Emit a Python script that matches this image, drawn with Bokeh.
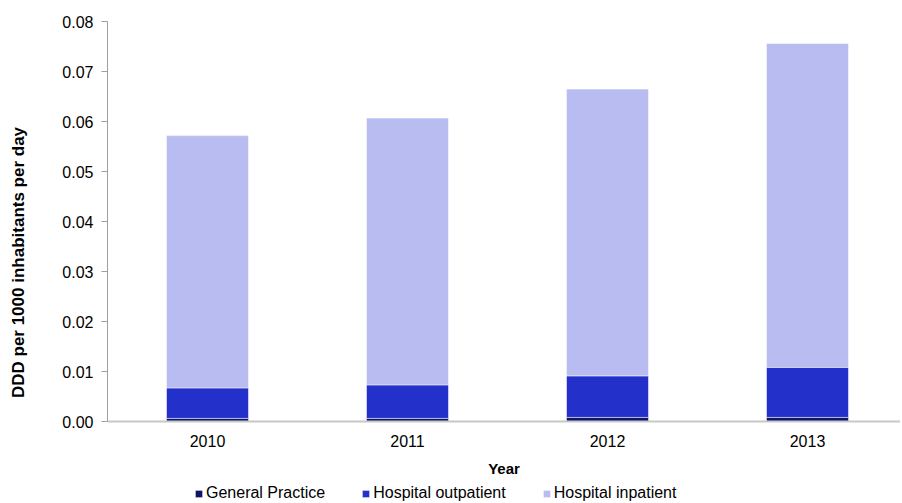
from bokeh.plotting import figure
from bokeh.models import (ColumnDataSource, Range1d, FixedTicker, Legend, LegendItem,
                          CustomJSTickFormatter, LinearAxis)
from bokeh.embed import file_html
from bokeh.resources import INLINE

years = ["2010", "2011", "2012", "2013"]
general_practice = [0.0007, 0.0007, 0.0009, 0.0009]
hospital_outpatient = [0.0061, 0.0067, 0.0083, 0.0100]
hospital_inpatient = [0.0504, 0.0533, 0.0573, 0.0647]
y_ticks = [0.0, 0.01, 0.02, 0.03, 0.04, 0.05, 0.06, 0.07, 0.08]

series = ["General Practice", "Hospital outpatient", "Hospital inpatient"]
colors = ["#0f1566", "#2330c9", "#b8bcf1"]

source = ColumnDataSource(dict(
    x=list(range(len(years))),
    gp=general_practice,
    op=hospital_outpatient,
    ip=hospital_inpatient,
))

FONT = "Liberation Sans"

p = figure(width=900, height=503, output_backend="svg", toolbar_location=None,
           x_range=Range1d(-0.5, 3.465), y_range=Range1d(-0.0163, 0.08),
           x_axis_location=None,
           min_border_left=107, min_border_top=21, min_border_right=0,
           min_border_bottom=0)

renderers = p.vbar_stack(["gp", "op", "ip"], x="x", width=0.41, source=source,
                         color=colors, line_color="#ffffff", line_alpha=0.5, line_width=1)

p.xgrid.visible = False
p.ygrid.visible = False
p.outline_line_color = None

xaxis = LinearAxis(fixed_location=0)
xaxis.ticker = FixedTicker(ticks=list(range(len(years))))
xaxis.major_label_overrides = {i: y for i, y in enumerate(years)}
xaxis.major_tick_line_color = None
xaxis.minor_tick_line_color = None
xaxis.axis_line_color = "#c8c8c8"
xaxis.axis_line_width = 2
xaxis.major_label_text_font = FONT
xaxis.major_label_text_font_size = "16px"
xaxis.major_label_text_color = "#000000"
xaxis.major_label_standoff = 7
xaxis.axis_label = "Year"
xaxis.axis_label_text_font = FONT
xaxis.axis_label_text_font_size = "15px"
xaxis.axis_label_text_font_style = "bold"
xaxis.axis_label_text_color = "#000000"
xaxis.axis_label_standoff = 10
p.add_layout(xaxis, "below")

p.yaxis.ticker = FixedTicker(ticks=y_ticks)
p.yaxis.bounds = (0, 0.08)
p.yaxis.formatter = CustomJSTickFormatter(code="return tick.toFixed(2);")
p.yaxis.minor_tick_line_color = None
p.yaxis.major_tick_out = 6
p.yaxis.major_tick_in = 0
p.yaxis.axis_line_color = "#a0a0a0"
p.yaxis.major_tick_line_color = "#a0a0a0"
p.yaxis.major_label_text_font = FONT
p.yaxis.major_label_text_font_size = "16px"
p.yaxis.major_label_text_color = "#000000"
p.yaxis.major_label_standoff = 8
p.yaxis.axis_label = "DDD per 1000 inhabitants per day"
p.yaxis.axis_label_text_font = FONT
p.yaxis.axis_label_text_font_size = "17px"
p.yaxis.axis_label_text_font_style = "bold"
p.yaxis.axis_label_text_color = "#000000"
p.yaxis.axis_label_standoff = 31

legend = Legend(items=[LegendItem(label=s, renderers=[r]) for s, r in zip(series, renderers)],
                orientation="horizontal", location=(87, 1),
                label_text_font=FONT, label_text_font_size="16px",
                label_text_color="#000000",
                glyph_width=9, glyph_height=9, label_standoff=3, spacing=36,
                padding=0, margin=0, border_line_color=None, background_fill_alpha=0,
                label_height=14)
p.add_layout(legend, "center")

open("out.html", "w").write(file_html(p, INLINE))
